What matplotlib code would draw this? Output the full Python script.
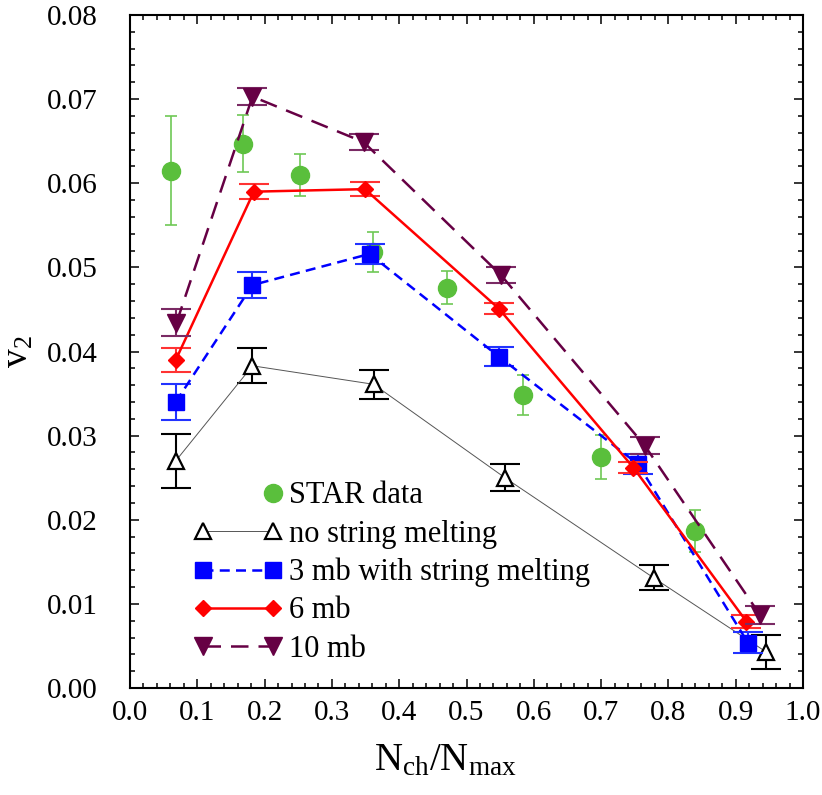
import matplotlib
matplotlib.use("Agg")
import matplotlib.pyplot as plt
from matplotlib.lines import Line2D
from matplotlib.legend_handler import HandlerLine2DCompound
from matplotlib.ticker import MultipleLocator, FormatStrFormatter

plt.rcParams['font.family'] = ['Liberation Serif', 'DejaVu Serif']
plt.rcParams['mathtext.fontset'] = 'custom'
plt.rcParams['mathtext.rm'] = 'Liberation Serif'
plt.rcParams['mathtext.it'] = 'Liberation Serif:italic'

# ---- data ----
x_star = [0.061, 0.168, 0.252, 0.361, 0.471, 0.584, 0.700, 0.840]
v2_star = [0.0615, 0.0647, 0.0610, 0.0518, 0.0476, 0.0348, 0.0275, 0.0187]
err_star = [0.0065, 0.0034, 0.0025, 0.0024, 0.0020, 0.0024, 0.0026, 0.0025]

x_nosm = [0.068, 0.182, 0.362, 0.557, 0.778, 0.945]
v2_nosm = [0.0270, 0.0383, 0.0361, 0.0250, 0.0131, 0.0043]
err_nosm = [0.0032, 0.0021, 0.0017, 0.0016, 0.0015, 0.0020]

x_3mb = [0.068, 0.182, 0.356, 0.548, 0.755, 0.918]
v2_3mb = [0.0340, 0.0479, 0.0516, 0.0394, 0.0266, 0.0054]
err_3mb = [0.0021, 0.0015, 0.0012, 0.0011, 0.0012, 0.0012]

x_6mb = [0.068, 0.184, 0.349, 0.548, 0.748, 0.916]
v2_6mb = [0.0390, 0.0590, 0.0593, 0.0451, 0.0262, 0.0079]
err_6mb = [0.0014, 0.0009, 0.0008, 0.0007, 0.0007, 0.0008]

x_10mb = [0.069, 0.182, 0.347, 0.551, 0.765, 0.936]
v2_10mb = [0.0434, 0.0703, 0.0649, 0.0491, 0.0288, 0.0087]
err_10mb = [0.0016, 0.0010, 0.0009, 0.0009, 0.0010, 0.0011]

labels = ["STAR data", "no string melting", "3 mb with string melting", "6 mb", "10 mb"]

# ---- figure ----
fig = plt.figure(figsize=(8.22, 7.95), dpi=100)
ax = fig.add_axes([130/822, 1-688/795, 673/822, 673/795])

green = '#5abf3c'
blue = '#0000ff'
red = '#ff0000'
purple = '#660044'

# STAR data
ax.errorbar(x_star, v2_star, yerr=err_star, fmt='none', ecolor='#6ec855',
            elinewidth=1.2, capsize=4, capthick=1.2, zorder=2)
ax.plot(x_star, v2_star, 'o', color=green, ms=13, mec=green, zorder=3)

# no string melting
ax.errorbar(x_nosm, v2_nosm, yerr=err_nosm, fmt='none', ecolor='black',
            elinewidth=1.5, capsize=11, capthick=1.5, zorder=4)
ax.plot(x_nosm, v2_nosm, '-', color='#555555', lw=0.7, zorder=4)
ax.plot(x_nosm, v2_nosm, '^', ms=12, mfc='white', mec='black', mew=1.6, zorder=5)

# 3 mb
ax.errorbar(x_3mb, v2_3mb, yerr=err_3mb, fmt='none', ecolor='#2233ff',
            elinewidth=1.5, capsize=11, capthick=1.5, zorder=6)
ax.plot(x_3mb, v2_3mb, '-', color=blue, lw=1.8, dashes=(4, 2.5), zorder=6)
ax.plot(x_3mb, v2_3mb, 's', color=blue, ms=11, zorder=7)

# 6 mb
ax.errorbar(x_6mb, v2_6mb, yerr=err_6mb, fmt='none', ecolor='#ff3333',
            elinewidth=1.5, capsize=11, capthick=1.5, zorder=8)
ax.plot(x_6mb, v2_6mb, '-', color=red, lw=1.8, zorder=8)
ax.plot(x_6mb, v2_6mb, 'D', color=red, ms=8, zorder=9)

# 10 mb
ax.errorbar(x_10mb, v2_10mb, yerr=err_10mb, fmt='none', ecolor='#7a2a64',
            elinewidth=1.5, capsize=11, capthick=1.5, zorder=10)
ax.plot(x_10mb, v2_10mb, '-', color=purple, lw=1.8, dashes=(7, 4), zorder=10)
ax.plot(x_10mb, v2_10mb, 'v', color=purple, ms=13, zorder=11)

ax.set_xlim(0.0, 1.0)
ax.set_ylim(0.0, 0.08)
ax.xaxis.set_major_locator(MultipleLocator(0.1))
ax.xaxis.set_minor_locator(MultipleLocator(0.02))
ax.yaxis.set_major_locator(MultipleLocator(0.01))
ax.yaxis.set_minor_locator(MultipleLocator(0.002))
ax.xaxis.set_major_formatter(FormatStrFormatter('%.1f'))
ax.yaxis.set_major_formatter(FormatStrFormatter('%.2f'))

for s in ax.spines.values():
    s.set_linewidth(1.5)
ax.tick_params(which='both', direction='in', top=True, right=True, width=1.1)
ax.tick_params(which='major', length=6.5)
ax.tick_params(which='minor', length=3.5)
ax.tick_params(axis='x', which='major', labelsize=21, pad=9)
ax.tick_params(axis='y', which='major', labelsize=21, pad=23)

ax.set_xlabel(r'$\mathrm{N_{ch}/N_{max}}$', fontsize=28)
ax.xaxis.set_label_coords(0.468, -0.08)
ax.set_ylabel(r'$\mathrm{v}_{2}$', fontsize=27)
ax.yaxis.set_label_coords(-0.14, 0.5)

# ---- legend ----
h_star = Line2D([], [], marker='o', ls='none', color=green, ms=13)
h_nosm = Line2D([], [], marker='^', color='#555555', lw=0.7, ms=12, mfc='white', mec='black', mew=1.6)
h_3mb = Line2D([], [], marker='s', color=blue, lw=1.8, dashes=(4, 2.5), ms=11)
h_6mb = Line2D([], [], marker='D', color=red, lw=1.8, ms=8)
h_10mb = Line2D([], [], marker='v', color=purple, lw=1.8, dashes=(7, 4), ms=13)


class HandlerRightMarker(HandlerLine2DCompound):
    def get_xdata(self, legend, xdescent, ydescent, width, height, fontsize):
        xdata, xm = super().get_xdata(legend, xdescent, ydescent, width, height, fontsize)
        return xdata, [xm[-1]]


leg = ax.legend([h_star, h_nosm, h_3mb, h_6mb, h_10mb], labels,
                loc='upper left', bbox_to_anchor=(0.095, 0.307), frameon=False,
                fontsize=22, numpoints=2, handlelength=2.9, handletextpad=0.22,
                labelspacing=0.3, borderpad=0, borderaxespad=0,
                handler_map={h_star: HandlerRightMarker()})

fig.savefig('out.png', dpi=100)
